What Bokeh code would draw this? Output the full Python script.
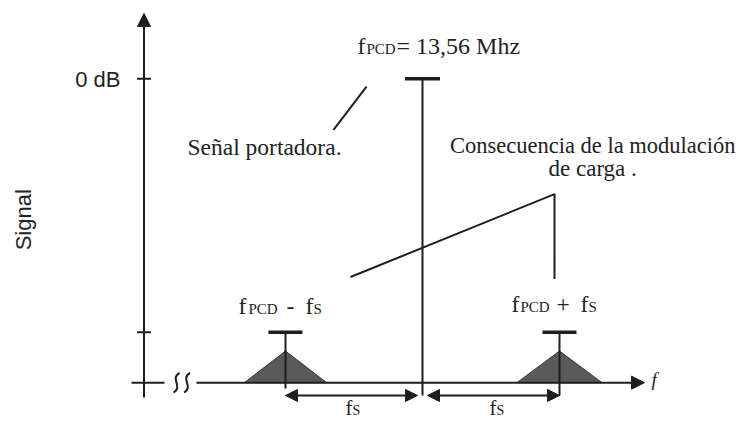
import math
from bokeh.plotting import figure
from bokeh.models import Range1d, Arrow, NormalHead, Label
from bokeh.embed import file_html
from bokeh.resources import INLINE

# ---------------- data (frequency in units of fS relative to fPCD, level: 0 dB = 1) -------------
freq_offset = [-1.0, 0.0, 1.0]          # fPCD - fS, fPCD, fPCD + fS
peak_level = [0.166, 1.0, 0.166]        # relative amplitude of each line
sideband_offset = [-1.0, 1.0]
sideband_peak = [0.104, 0.104]          # apex of the shaded sidebands
sideband_halfwidth = [0.30, 0.31]
level_ticks = [1.0, 0.166]
tick_labels = ["0 dB", ""]
carrier_text = ["f", "PCD", "= 13,56 Mhz"]
lower_text = ["f", "PCD", "-", "f", "S"]
upper_text = ["f", "PCD", "+", "f", "S"]
spacing_text = ["f", "S"]
note_carrier = "Señal portadora."
note_mod = ["Consecuencia de la modulación", "de carga ."]
y_title = "Signal"
x_title = "f"

# ---------------- layout helpers (reference pixel -> data) -------------------------
PX_FS = 137.0      # pixels per fS
X0 = 422.0         # pixel of fPCD
PX_LVL = 308.0     # pixels per unit level
Y0 = 387.0         # pixel of baseline


def X(px):
    return (px - X0) / PX_FS


def Y(px):
    return (Y0 - px) / PX_LVL


W, H = 736, 420
K = 0.987          # slight vertical squeeze so the bottom labels fit
TOP = 13.0
y_start = Y(TOP + (H - TOP) / K)
y_end = Y(TOP - TOP / K)
PPY = H / (y_end - y_start)   # canvas pixels per data unit (y)
PPX = PX_FS

INK = "#1e1e1e"
TXT = "#222222"
SERIF = "Liberation Serif"
SANS = "Liberation Sans"
BASE_FIX = 0.35    # label baseline correction (fraction of font size)

p = figure(width=W, height=H, output_backend="svg", toolbar_location=None,
           x_range=Range1d(X(0), X(W)), y_range=Range1d(y_start, y_end),
           x_axis_type=None, y_axis_type=None, min_border=0,
           outline_line_color=None, background_fill_color="white",
           border_fill_color="white")
p.grid.visible = False

ax = X(143.5)
arrow_row = Y(400)

# vertical axis with arrow
p.add_layout(Arrow(end=NormalHead(size=13, fill_color=INK, line_color=INK, line_width=1),
                   start=None, x_start=ax, y_start=Y(402), x_end=ax, y_end=Y(13),
                   line_color=INK, line_width=2))
# ticks
for lvl in level_ticks:
    p.segment(x0=[X(136.5)], y0=[lvl], x1=[X(150.5)], y1=[lvl], line_color=INK, line_width=2)
# baseline stub across the axis
p.segment(x0=[X(131)], y0=[0], x1=[X(164)], y1=[0], line_color=INK, line_width=2)
# break squiggles
for cx in (176.0, 186.5):
    p.bezier(x0=[X(cx + 3)], y0=[Y(377)], x1=[X(cx - 3)], y1=[Y(397)],
             cx0=[X(cx - 7)], cy0=[Y(383)], cx1=[X(cx + 7)], cy1=[Y(391)],
             line_color=INK, line_width=2)
# frequency axis with arrow
p.add_layout(Arrow(end=NormalHead(size=13, fill_color=INK, line_color=INK, line_width=1),
                   start=None, x_start=X(196), y_start=0, x_end=X(644), y_end=0,
                   line_color=INK, line_width=2))

# shaded sidebands
xs = [[f - hw, f, f + hw] for f, hw in zip(sideband_offset, sideband_halfwidth)]
ys = [[0, h, 0] for h in sideband_peak]
p.patches(xs, ys, fill_color="#5a5a5a", line_color="#333333", line_width=1)

# spectral lines (stems) and caps
stem_bottom = [Y(393), arrow_row, arrow_row]
p.segment(x0=freq_offset, y0=peak_level, x1=freq_offset, y1=stem_bottom,
          line_color=INK, line_width=2)
cap_half = [17.0 / PX_FS, 17.5 / PX_FS, 17.0 / PX_FS]
p.segment(x0=[f - c for f, c in zip(freq_offset, cap_half)], y0=peak_level,
          x1=[f + c for f, c in zip(freq_offset, cap_half)], y1=peak_level,
          line_color=INK, line_width=3.5)

# fS spacing double arrows
gap = 5.0 / PX_FS
for a, b in ((freq_offset[0], freq_offset[1] - gap), (freq_offset[1] + gap, freq_offset[2])):
    p.add_layout(Arrow(start=NormalHead(size=12, fill_color=INK, line_color=INK, line_width=1),
                       end=NormalHead(size=12, fill_color=INK, line_color=INK, line_width=1),
                       x_start=a, y_start=arrow_row, x_end=b, y_end=arrow_row,
                       line_color=INK, line_width=2))

# leader lines
p.line([X(366), X(333)], [Y(87), Y(131)], line_color=INK, line_width=2)
p.line([X(350), X(554), X(554)], [Y(280), Y(196), Y(282)], line_color=INK, line_width=2)


def lab(text, xpx, ypx, size, font=SERIF, align="left", style="normal", angle=0.0):
    fix = BASE_FIX * size
    x = X(xpx)
    y = Y(ypx)
    if angle:
        x -= fix / PPX
    else:
        y += fix / PPY
    p.add_layout(Label(x=x, y=y, text=text, text_font=font,
                       text_font_size=f"{size}px", text_color=TXT, text_align=align,
                       text_baseline="alphabetic", text_font_style=style, angle=angle))


# axis texts
lab(tick_labels[0], 120, 88, 22, font=SANS, align="right")
lab(y_title, 31, 222, 22, font=SANS, align="center", angle=math.pi / 2)
lab(x_title, 651, 391, 19, style="italic")

# carrier label
lab(carrier_text[0], 357, 54, 23.5)
lab(carrier_text[1], 366, 54, 15)
lab(carrier_text[2], 396, 54, 24)

# sideband labels
for pieces, xs_px, base in ((lower_text, [238, 248, 286, 305, 313], 318),
                            (upper_text, [511, 520, 556, 580, 588], 316)):
    for t, xp in zip(pieces, xs_px):
        lab(t, xp, base, 15 if t in ("PCD", "S") else 23.5)

# spacing labels (raised slightly so they stay inside the page)
for fx in (345, 489):
    lab(spacing_text[0], fx, 420, 20.5)
    lab(spacing_text[1], fx + 7, 420, 14)

# notes
lab(note_carrier, 187, 157, 23.5)
lab(note_mod[0], 735, 155, 22.5, align="right")
lab(note_mod[1], 548, 178, 23)

open("out.html", "w").write(file_html(p, INLINE))
